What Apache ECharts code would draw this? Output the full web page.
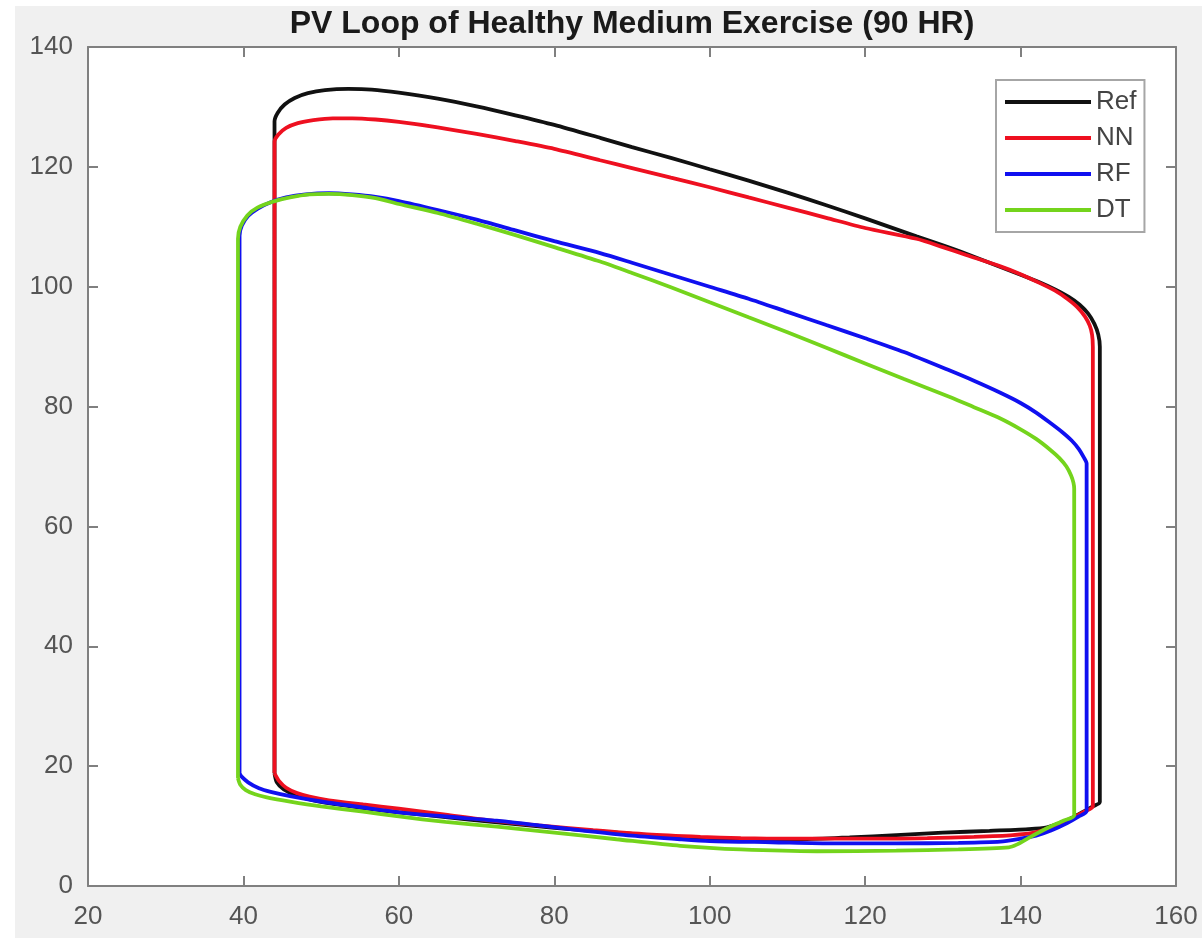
<!DOCTYPE html>
<html>
<head>
<meta charset="utf-8">
<title>PV Loop</title>
<script src="https://cdn.jsdelivr.net/npm/echarts@6.0.0/dist/echarts.min.js"></script>
<style>
  html, body { margin: 0; padding: 0; background: #ffffff; }
  #chart { position: absolute; left: 15px; top: 6px; width: 1187px; height: 932px; }
</style>
</head>
<body>
<div id="chart"></div>
<script>
// volume (x) / pressure (y), one closed loop each
const refVolume = [44.0, 44.0, 44.4, 45.3, 46.6, 48.3, 50.5, 53.5, 56.5, 60, 65, 70, 75, 80, 86, 90, 95, 100, 105, 110, 115, 120, 126.6, 130, 133, 137, 140, 142.5, 144.5, 146.2, 147.6, 148.7, 149.5, 150.0, 150.2, 150.2, 149.3, 147.5, 145.5, 143.4, 141, 136, 130, 124, 118, 112, 106, 100, 94, 88, 80, 72, 66, 60, 56, 52, 49, 46.8, 45.2, 44.3, 44.0];
const refPressure = [18.8, 127.6, 129.0, 130.4, 131.5, 132.3, 132.8, 133.0, 132.9, 132.4, 131.4, 130.1, 128.6, 127.0, 124.8, 123.3, 121.5, 119.6, 117.7, 115.7, 113.6, 111.4, 108.4, 106.9, 105.5, 103.5, 102.0, 100.7, 99.5, 98.3, 97.0, 95.5, 93.8, 92.0, 90.0, 14.0, 13.3, 12.0, 10.7, 9.8, 9.5, 9.2, 8.9, 8.5, 8.1, 7.8, 7.7, 7.9, 8.3, 8.9, 9.7, 10.7, 11.5, 12.3, 12.9, 13.6, 14.3, 15.1, 16.1, 17.3, 18.8];

const nnVolume = [44.0, 44.0, 44.5, 45.5, 47, 49, 51.5, 54, 57, 60, 65, 70, 75, 80, 85.9, 90, 95, 100, 105, 110, 115, 120, 126.6, 130, 133, 137.4, 140, 142.5, 144.5, 146, 147.3, 148.3, 148.9, 149.2, 149.3, 149.3, 148.2, 146.5, 144.5, 142, 139, 134, 128, 122, 116, 110, 104, 98.8, 92, 85, 78, 72, 66, 60, 55.4, 51, 48.5, 46.9, 45.5, 44.6, 44.0];
const nnPressure = [18.8, 124.2, 125.4, 126.5, 127.3, 127.8, 128.1, 128.1, 127.9, 127.5, 126.6, 125.5, 124.3, 123.0, 121.1, 119.8, 118.2, 116.6, 114.9, 113.2, 111.5, 109.8, 108.0, 106.6, 105.3, 103.4, 102.1, 100.6, 99.3, 98.0, 96.6, 95.0, 93.5, 92.0, 90.0, 13.3, 12.4, 11.2, 10.0, 9.0, 8.5, 8.2, 8.0, 7.9, 7.9, 7.9, 8.0, 8.2, 8.6, 9.3, 10.1, 10.9, 11.9, 12.9, 13.6, 14.3, 14.9, 15.5, 16.4, 17.5, 18.8];

const rfVolume = [39.5, 39.5, 39.8, 40.6, 41.8, 43.5, 45.5, 48, 51, 54, 57, 60, 65, 70, 75, 80, 85.9, 90, 95, 100, 105, 110, 115, 120, 125, 130.9, 134, 137.4, 140, 142, 143.8, 145.3, 146.6, 147.5, 148.1, 148.5, 148.5, 147.5, 146, 144, 142, 140, 137.4, 132, 124, 116, 108, 100, 96.2, 90, 84, 78, 72.6, 66, 60, 55.4, 50, 46, 43.5, 42, 40.6, 39.8, 39.5];
const rfPressure = [18.8, 108.5, 110.2, 111.8, 113.0, 114.1, 114.9, 115.4, 115.6, 115.4, 115.0, 114.3, 112.8, 111.2, 109.4, 107.6, 105.6, 104.0, 102.0, 100.0, 98.0, 95.8, 93.6, 91.4, 89.1, 86.0, 84.3, 82.3, 80.6, 79.0, 77.3, 75.8, 74.3, 72.9, 71.6, 70.5, 12.5, 11.6, 10.5, 9.3, 8.4, 7.9, 7.4, 7.2, 7.1, 7.1, 7.3, 7.5, 7.8, 8.4, 9.2, 10.1, 10.9, 11.6, 12.3, 13.1, 14.1, 15.0, 15.7, 16.3, 17.3, 18.2, 18.8];

const dtVolume = [39.3, 39.3, 39.6, 40.5, 41.8, 43.8, 46, 48.5, 51, 54, 57, 60, 65, 70, 75, 80, 85.9, 90, 95, 100, 105, 110, 115, 120, 125, 130.9, 134, 137.4, 140, 142, 143.8, 145, 145.9, 146.5, 146.8, 146.9, 146.9, 145.5, 144, 142.9, 141, 139.5, 138.5, 132, 124, 113.8, 104, 96.2, 88, 80, 72.6, 66, 60, 55.4, 50, 46, 43, 41.5, 40.3, 39.6, 39.3];
const dtPressure = [18.0, 108.0, 110.0, 111.9, 113.2, 114.2, 114.9, 115.4, 115.5, 115.3, 114.8, 113.8, 112.3, 110.5, 108.6, 106.6, 104.2, 102.3, 99.9, 97.4, 94.9, 92.4, 89.8, 87.2, 84.6, 81.6, 79.9, 78.0, 76.2, 74.6, 72.8, 71.4, 70.0, 68.5, 67.3, 66.3, 11.8, 10.9, 10.0, 9.3, 8.0, 6.9, 6.45, 6.1, 5.9, 5.8, 6.1, 6.7, 7.8, 8.9, 9.9, 10.7, 11.6, 12.4, 13.3, 14.1, 14.8, 15.3, 16.0, 16.9, 18.0];

const seriesNames = ['Ref', 'NN', 'RF', 'DT'];
const seriesColors = ['#111111', '#ee1020', '#1010f0', '#74d41c'];

const pair = (xs, ys) => xs.map((x, i) => [x, ys[i]]);
const loops = [
  pair(refVolume, refPressure),
  pair(nnVolume, nnPressure),
  pair(rfVolume, rfPressure),
  pair(dtVolume, dtPressure)
];

const chart = echarts.init(document.getElementById('chart'), null, { renderer: 'canvas' });

const FONT = 'Liberation Sans, Arial, sans-serif';
const axisGray = '#808080';

// shared look of the four box axes
function boxAxis(extra) {
  return Object.assign({
    type: 'value',
    axisLine: { show: true, onZero: false, lineStyle: { color: axisGray, width: 2 } },
    axisTick: { show: true, inside: true, length: 10, lineStyle: { color: axisGray, width: 2 } },
    splitLine: { show: false },
    axisLabel: { show: false }
  }, extra);
}

const labelStyle = { show: true, color: '#555555', fontSize: 26, fontFamily: FONT };

const option = {
  backgroundColor: '#f0f0f0',
  animation: false,
  grid: {
    left: 73, right: 26, top: 41, bottom: 52,
    show: true, backgroundColor: '#ffffff', borderWidth: 0
  },
  graphic: [{
    type: 'text',
    x: 617, y: 18,
    style: {
      text: 'PV Loop of Healthy Medium Exercise (90 HR)',
      fill: '#1a1a1a',
      font: 'bold 32px ' + FONT,
      textAlign: 'center',
      textVerticalAlign: 'middle'
    }
  }],
  legend: {
    orient: 'vertical',
    left: 981, top: 74,
    padding: [9, 8, 9, 9],
    itemWidth: 86, itemHeight: 4, itemGap: 10,
    icon: 'rect',
    backgroundColor: '#ffffff',
    borderColor: '#a6a6a6', borderWidth: 2,
    textStyle: { color: '#444444', fontSize: 26, fontFamily: FONT, lineHeight: 26 },
    data: seriesNames
  },
  xAxis: [
    boxAxis({ min: 20, max: 160, interval: 20, position: 'bottom',
      axisLabel: Object.assign({ margin: 18 }, labelStyle) }),
    boxAxis({ min: 20, max: 160, interval: 20, position: 'top' })
  ],
  yAxis: [
    boxAxis({ min: 0, max: 140, interval: 20, position: 'left',
      axisLabel: Object.assign({ margin: 15 }, labelStyle) }),
    boxAxis({ min: 0, max: 140, interval: 20, position: 'right' })
  ],
  series: loops.map((data, i) => ({
    name: seriesNames[i],
    type: 'line',
    xAxisIndex: 0,
    yAxisIndex: 0,
    data: data,
    showSymbol: false,
    symbol: 'none',
    smooth: 0.25,
    color: seriesColors[i],
    lineStyle: { color: seriesColors[i], width: 3.8 }
  }))
};

chart.setOption(option);
</script>
</body>
</html>
